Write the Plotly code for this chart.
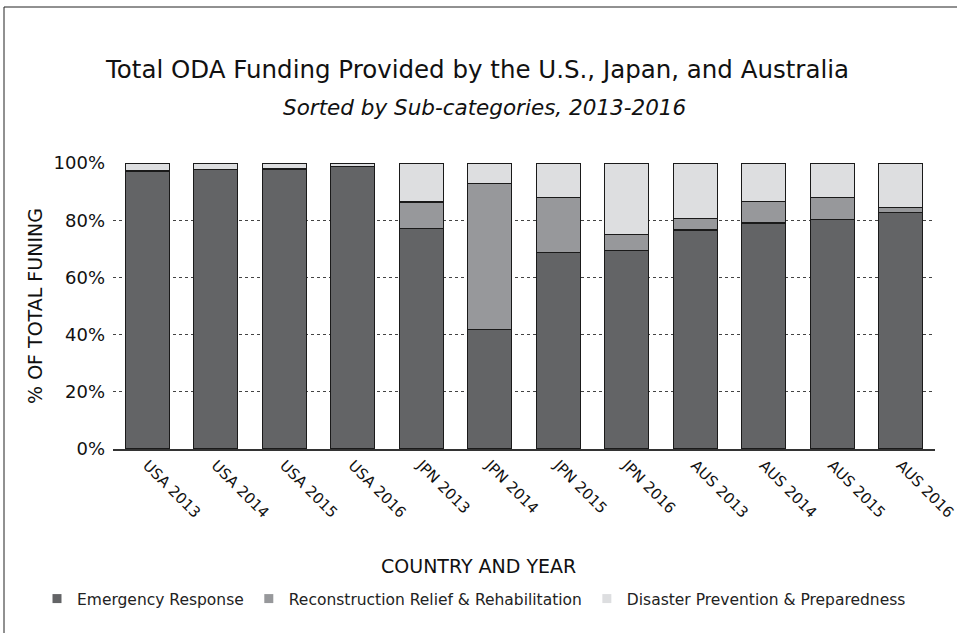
import plotly.graph_objects as go

categories = ["USA 2013", "USA 2014", "USA 2015", "USA 2016",
              "JPN 2013", "JPN 2014", "JPN 2015", "JPN 2016",
              "AUS 2013", "AUS 2014", "AUS 2015", "AUS 2016"]
emergency = [97.2, 97.6, 97.9, 98.7, 77.0, 41.8, 68.6, 69.3, 76.6, 79.0, 80.2, 82.8]
reconstruction = [0.0, 0.0, 0.0, 0.0, 9.4, 51.1, 19.4, 5.6, 4.0, 7.5, 7.7, 1.7]
prevention = [2.8, 2.4, 2.1, 1.3, 13.6, 7.1, 12.0, 25.1, 19.4, 13.5, 12.1, 15.5]
ytick_vals = [0, 20, 40, 60, 80, 100]
ytick_text = ["0%", "20%", "40%", "60%", "80%", "100%"]

series = [
    ("Emergency Response", emergency, "#636466"),
    ("Reconstruction Relief & Rehabilitation", reconstruction, "#97989b"),
    ("Disaster Prevention & Preparedness", prevention, "#dddee0"),
]

FONT = "DejaVu Sans"
W, H = 957, 633
ML, MR, MT, MB = 113, 22, 163, 184
plot_w = W - ML - MR
plot_h = H - MT - MB

fig = go.Figure()
for name, vals, col in series:
    fig.add_trace(go.Bar(
        x=categories, y=vals, name=name, showlegend=False,
        marker=dict(color=col, line=dict(color="#1a1a1a", width=1.2)),
        width=0.64,
    ))
# legend entries with small square swatches
for name, vals, col in series:
    fig.add_trace(go.Scatter(
        x=[None], y=[None], mode="markers", name=name,
        marker=dict(symbol="square", size=9, color=col),
    ))


def py2paper(py):
    return 1 + (MT - py) / plot_h


def px2paper(px):
    return (px - ML) / plot_w


fig.update_layout(
    barmode="stack",
    width=W, height=H,
    paper_bgcolor="white", plot_bgcolor="white",
    margin=dict(l=ML, r=MR, t=MT, b=MB, autoexpand=False),
    font=dict(family=FONT, color="#111111"),
    showlegend=True,
    legend=dict(orientation="h", x=px2paper(37), xanchor="left", y=py2paper(599), yanchor="middle",
                font=dict(size=15.5, color="#222222"), itemwidth=30,
                traceorder="normal", tracegroupgap=0),
    xaxis=dict(
        tickangle=45, tickfont=dict(size=15, color="#111111"),
        showline=True, linecolor="#333333", linewidth=1.5,
        ticks="", showgrid=False, automargin=False,
    ),
    yaxis=dict(
        range=[0, 100], tickvals=ytick_vals, ticktext=ytick_text,
        tickfont=dict(size=18, color="#111111"),
        showgrid=True, gridcolor="#444444", griddash="dot", gridwidth=1,
        zeroline=False, ticks="", ticklabelstandoff=7, automargin=False,
        title=dict(text="% OF TOTAL FUNING", font=dict(size=19, color="#111111"), standoff=5),
    ),
    annotations=[
        dict(text="Total ODA Funding Provided by the U.S., Japan, and Australia",
             x=px2paper(477), y=py2paper(70), yanchor="middle", xref="paper", yref="paper",
             showarrow=False, font=dict(size=24.5, color="#111111")),
        dict(text="<i>Sorted by Sub-categories, 2013-2016</i>",
             x=px2paper(484), y=py2paper(107), yanchor="middle", xref="paper", yref="paper",
             showarrow=False, font=dict(size=21.5, color="#111111")),
        dict(text="COUNTRY AND YEAR",
             x=px2paper(478), y=py2paper(566), yanchor="middle", xref="paper", yref="paper",
             showarrow=False, font=dict(size=19, color="#111111")),
    ],
    shapes=[
        dict(type="rect", xref="paper", yref="paper",
             x0=px2paper(4), x1=5, y0=-5, y1=py2paper(7),
             line=dict(color="#222222", width=1)),
    ],
)

fig.write_html("out.html", config={"displayModeBar": False},
               post_script="document.body.style.margin='0px';")
